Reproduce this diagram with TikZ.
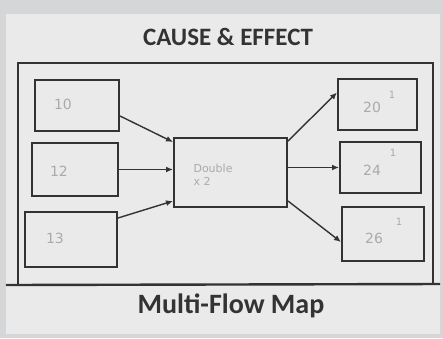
\documentclass[tikz,border=0pt]{standalone}
\usepackage{fontspec}
\setmainfont{Carlito}
\newfontfamily\handfont{DejaVu Sans}
\usetikzlibrary{arrows.meta}
\definecolor{paper}{HTML}{EAEAEA}
\definecolor{bgstrip}{HTML}{D4D6D8}
\definecolor{ink}{HTML}{333333}
\definecolor{pencil}{HTML}{AAAAAA}
\tikzset{
  box/.style={draw=ink, line width=2pt, inner sep=0pt},
  frame/.style={draw=ink, line width=2.4pt},
  link/.style={draw=ink, line width=1.4pt, -{Latex[length=7pt,width=6pt]}},
  hand/.style={text=pencil, font=\handfont\fontsize{14}{15}\selectfont},
  sup/.style={text=pencil, font=\handfont\fontsize{10}{11}\selectfont},
  heading/.style={text=ink, font=\bfseries\fontsize{25}{28}\selectfont}
}
\begin{document}
\begin{tikzpicture}[x=1pt,y=-1pt]
\useasboundingbox (0,0) rectangle (443,338);
\fill[bgstrip] (0,0) rectangle (443,338);
\fill[paper] (6,14) rectangle (440,334);
% title
\node[heading] (title) at (228,37) {CAUSE \& EFFECT};
% outer frame
\draw[frame] (18,285) -- (18,63) -- (433,63) -- (433,285);
\draw[frame] (6,285) -- (440,284);
% boxes
\node[box, minimum width=84pt, minimum height=51pt] (L1) at (77,105) {};
\node[box, minimum width=86pt, minimum height=53pt] (L2) at (75,169.5) {};
\node[box, minimum width=92pt, minimum height=55pt] (L3) at (71,239) {};
\node[box, minimum width=113pt, minimum height=69pt] (C) at (230.5,172.5) {};
\node[box, minimum width=79pt, minimum height=51pt] (R1) at (377.5,104.5) {};
\node[box, minimum width=81pt, minimum height=51pt] (R2) at (380.5,167.5) {};
\node[box, minimum width=82pt, minimum height=54pt] (R3) at (383,234) {};
% arrows
\draw[link] ([yshift=-11pt]L1.east) -- ([yshift=-5pt]C.north west);
\draw[link] (L2.east) -- (L2.east -| C.west);
\draw[link] ([yshift=21pt]L3.east) -- ([yshift=7pt]C.south west);
\draw[link] ([yshift=-4pt]C.north east) -- ([yshift=12pt]R1.west);
\draw[link] (C.east |- R2.west) -- (R2.west);
\draw[link] ([yshift=7pt]C.south east) -- ([yshift=-8pt]R3.west);
% handwritten entries
\node[hand] (t10) at (63,104) {10};
\node[hand] (t12) at (59,171) {12};
\node[hand] (t13) at (55,238) {13};
\node[hand] (t20) at (372,107) {20};
\node[sup] (s20) at (392,95) {1};
\node[hand] (t24) at (372,170) {24};
\node[sup] (s24) at (393,153) {1};
\node[hand] (t26) at (374,238) {26};
\node[sup] (s26) at (399,222) {1};
\node[hand, font=\handfont\fontsize{11}{13}\selectfont, align=left, anchor=west] (tc) at (190,175) {Double\\x 2};
% footer
\node[heading, font=\bfseries\fontsize{28}{32}\selectfont] (foot) at (231,306) {Multi-Flow Map};
\end{tikzpicture}
\end{document}
